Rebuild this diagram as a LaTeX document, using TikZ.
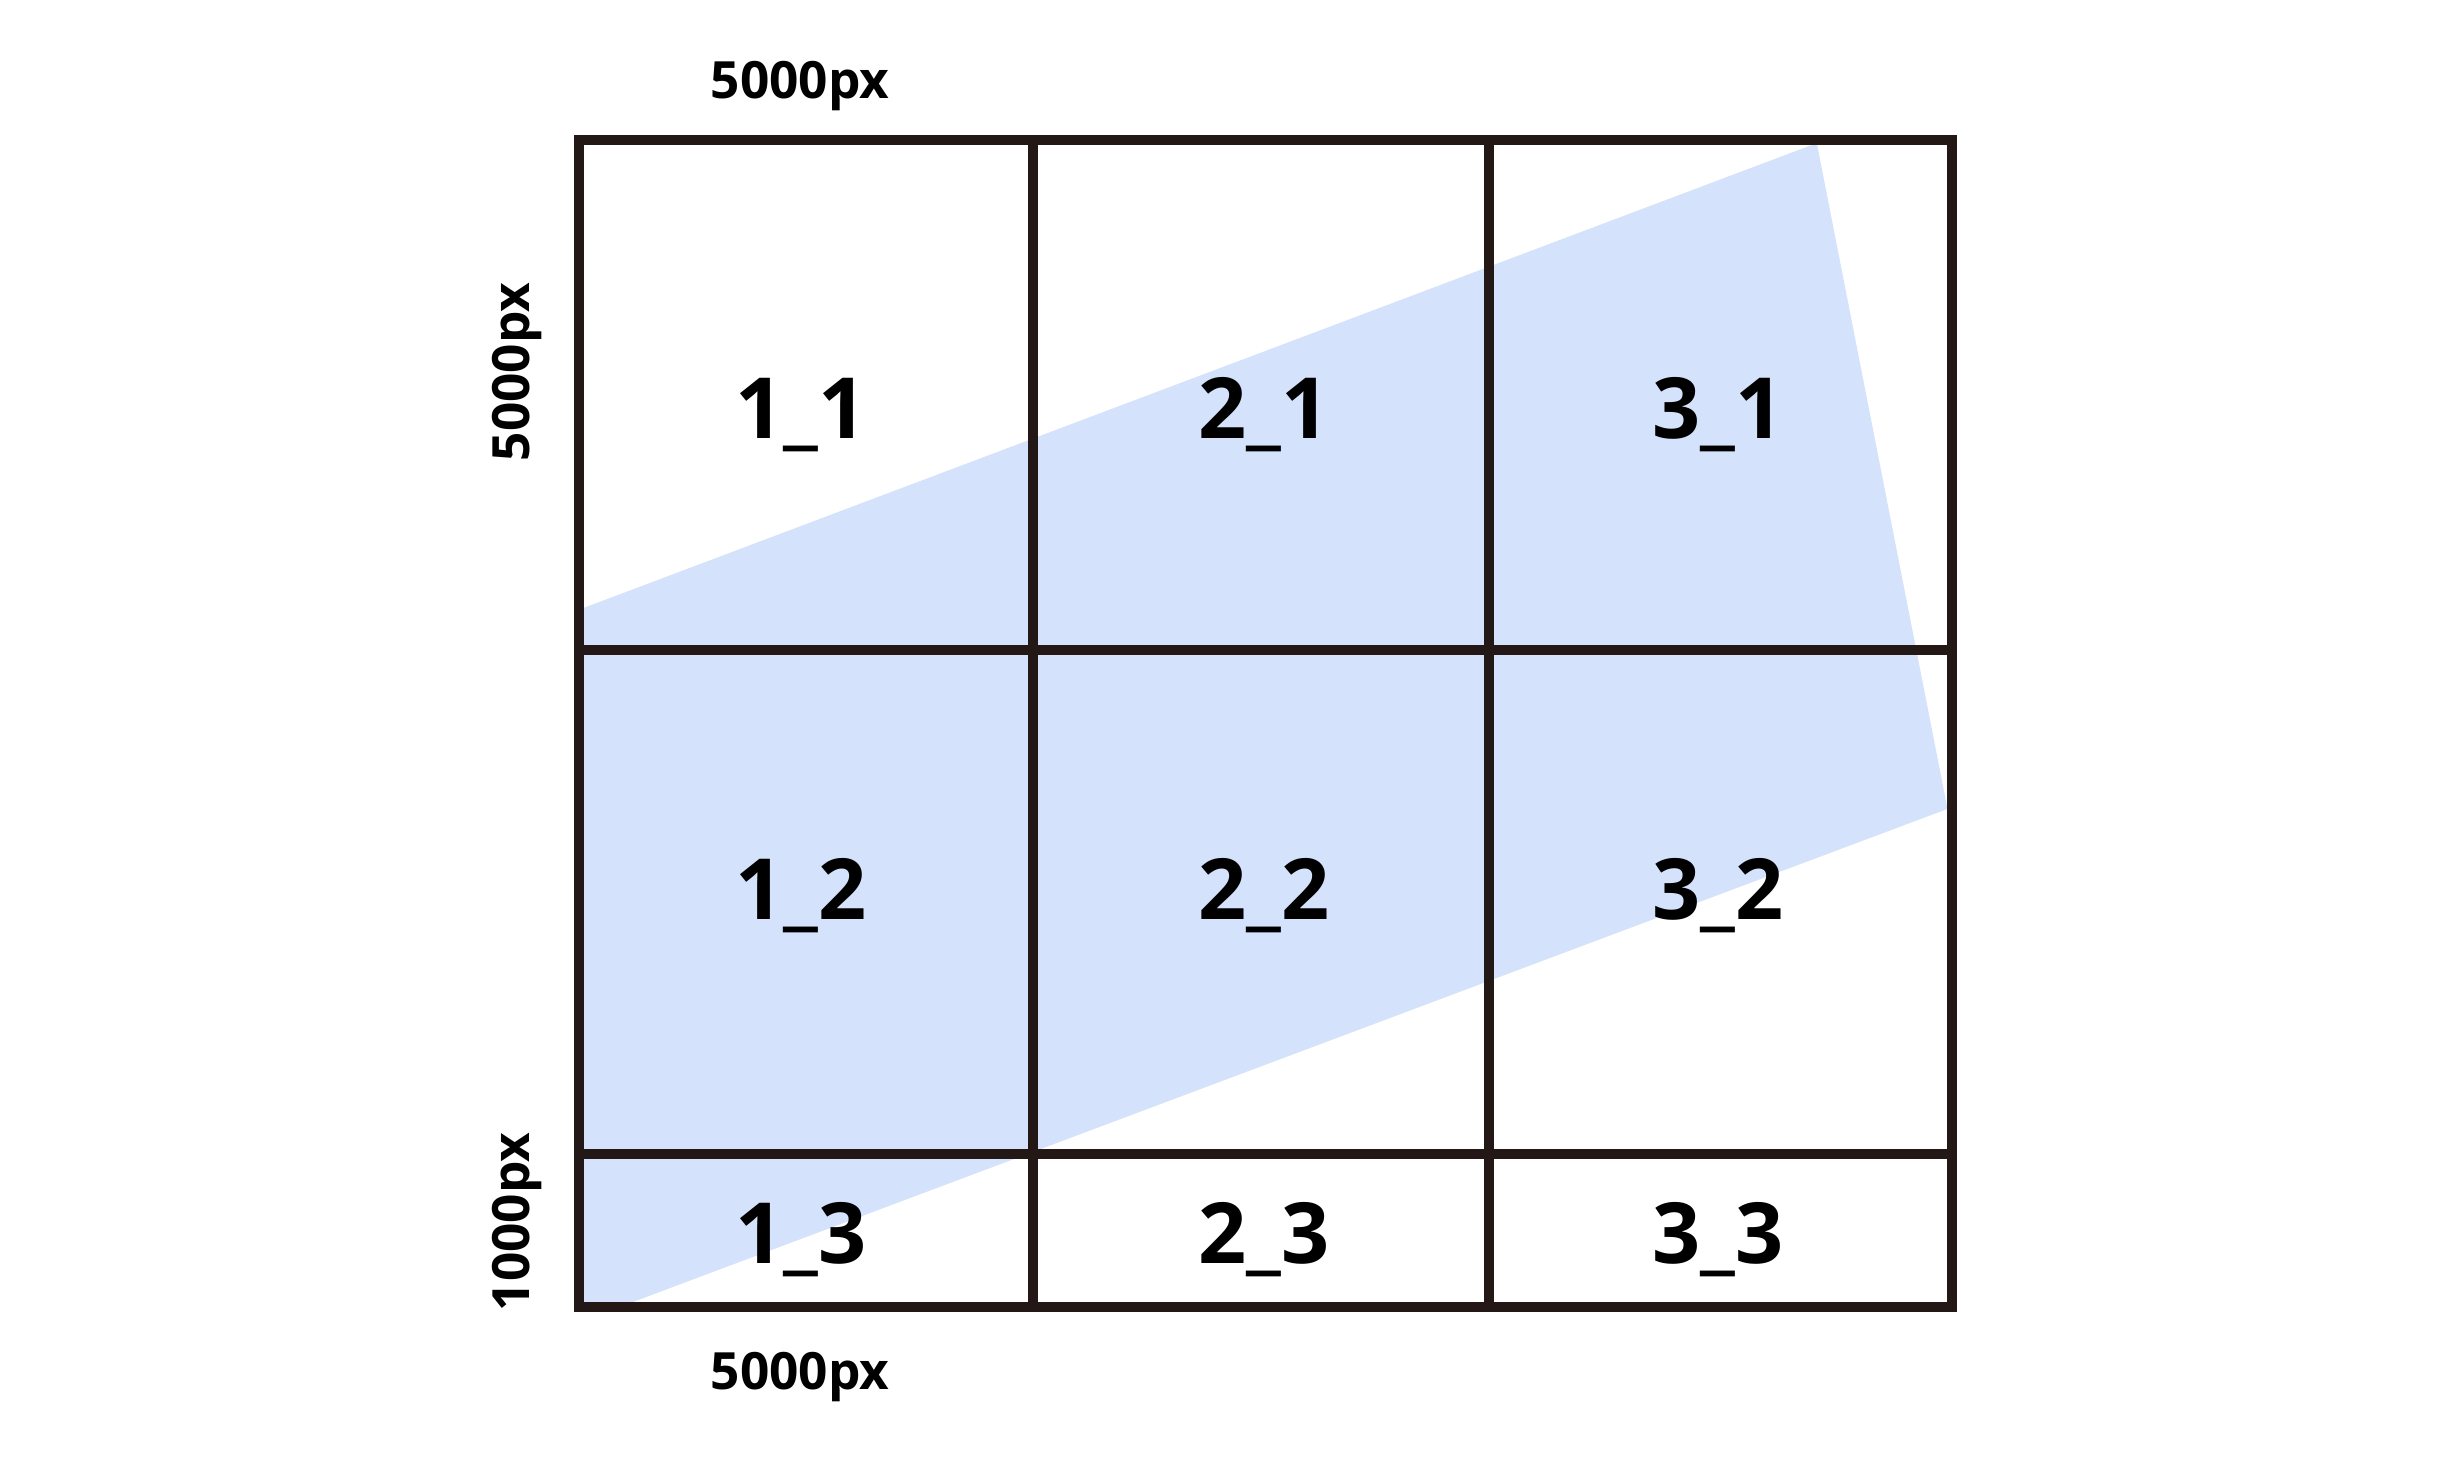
\documentclass[tikz,border=0pt]{standalone}
\usepackage{fontspec}
\setmainfont{Open Sans}
\usetikzlibrary{positioning}
\definecolor{gridline}{HTML}{231815}
\definecolor{areablue}{HTML}{D5E2FC}

\begin{document}
\begin{tikzpicture}[x=0.01cm, y=-0.01cm,
  grid/.style={draw=gridline, line width=2.8pt},
  cell/.style={font=\fontsize{24}{28}\selectfont\bfseries, anchor=base},
  size/.style={font=\fontsize{14.6}{17}\selectfont\bfseries}
]
  \useasboundingbox (0,0) rectangle (2439,1460);

  % corners of the tile grid
  \coordinate (nw) at (578.6,140);
  \coordinate (se) at (1952.2,1306.6);

  % covered area
  \begin{scope}
    \clip (nw) rectangle (se);
    \fill[areablue] (578.6,609.8) -- (1816.8,143.1) -- (1947.5,808.9)
      -- (620.6,1306.6) -- (578.6,1306.6) -- cycle;
  \end{scope}

  % grid
  \draw[grid] (nw) rectangle (se);
  \draw[grid] (1033,140) -- (1033,1306.6);
  \draw[grid] (1488.6,140) -- (1488.6,1306.6);
  \draw[grid] (578.6,650.2) -- (1952.2,650.2);
  \draw[grid] (578.6,1154.2) -- (1952.2,1154.2);

  % tile names
  \node[cell] (c11) at (801,438) {1\_1};
  \node[cell] (c21) at (1264,438) {2\_1};
  \node[cell] (c31) at (1718,438) {3\_1};
  \node[cell] (c12) at (801,919) {1\_2};
  \node[cell] (c22) at (1264,919) {2\_2};
  \node[cell] (c32) at (1718,919) {3\_2};
  \node[cell] (c13) at (801,1263) {1\_3};
  \node[cell] (c23) at (1264,1263) {2\_3};
  \node[cell] (c33) at (1718,1263) {3\_3};

  % sizes
  \node[size] (wtop) at (800,86) {5000px};
  \node[size] (wbot) at (800,1377) {5000px};
  \node[size, rotate=90] (hbig) at (517,372) {5000px};
  \node[size, rotate=90] (hsmall) at (517,1222) {1000px};
\end{tikzpicture}
\end{document}
